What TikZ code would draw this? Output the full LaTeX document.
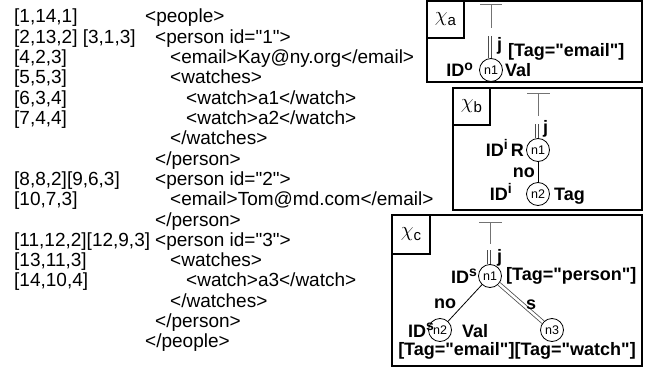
\documentclass[tikz,border=0pt]{standalone}
\usepackage{fontspec}
\setmainfont{Liberation Sans}[Ligatures=TeXOff]
\newcommand\IDup[1]{ID\raisebox{6.5pt}{\fontsize{14}{14}\selectfont\bfseries #1}}
\newcommand\chilbl[1]{{\fontsize{21}{21}\selectfont$\chi$}\raisebox{-3.5pt}{\fontsize{15}{15}\selectfont #1}}
\begin{document}
\begin{tikzpicture}[x=1pt,y=-1pt,
  txt/.style={anchor=base west, inner sep=0pt, font=\fontsize{19}{20}\selectfont},
  lbl/.style={inner sep=0pt, font=\fontsize{18}{18}\bfseries\selectfont},
  nd/.style={circle, draw, line width=0.8pt, minimum size=23pt, inner sep=0pt, font=\fontsize{12.5}{13}\selectfont},
  frame/.style={draw, line width=1.2pt},
  tbar/.style={draw=black!55, line width=1pt},
  dbl/.style={draw=black!70, double=white, double distance=2pt, line width=0.8pt},
  edge/.style={draw, line width=0.8pt}]
\useasboundingbox (0,0) rectangle (648,369);
% left column
\node[txt] (c1)  at (14,23) {[1,14,1]};
\node[txt] (c2)  at (14,43.3) {[2,13,2] [3,1,3]};
\node[txt] (c3)  at (14,63.6) {[4,2,3]};
\node[txt] (c4)  at (14,83.9) {[5,5,3]};
\node[txt] (c5)  at (14,104.2) {[6,3,4]};
\node[txt] (c6)  at (14,124.5) {[7,4,4]};
\node[txt] (c9)  at (14,185.4) {[8,8,2][9,6,3]};
\node[txt] (c10) at (14,205.7) {[10,7,3]};
\node[txt] (c12) at (14,246.3) {[11,12,2][12,9,3]};
\node[txt] (c13) at (14,266.6) {[13,11,3]};
\node[txt] (c14) at (14,286.9) {[14,10,4]};
% xml
\node[txt] (x1)  at (145,23) {<people>};
\node[txt] (x2)  at (155,43.3) {<person id="1">};
\node[txt] (x3)  at (170,63.6) {<email>Kay@ny.org</email>};
\node[txt] (x4)  at (170,83.9) {<watches>};
\node[txt] (x5)  at (186,104.2) {<watch>a1</watch>};
\node[txt] (x6)  at (186,124.5) {<watch>a2</watch>};
\node[txt] (x7)  at (170,144.8) {</watches>};
\node[txt] (x8)  at (155,165.1) {</person>};
\node[txt] (x9)  at (155,185.4) {<person id="2">};
\node[txt] (x10) at (170,205.7) {<email>Tom@md.com</email>};
\node[txt] (x11) at (155,226) {</person>};
\node[txt] (x12) at (155,246.3) {<person id="3">};
\node[txt] (x13) at (170,266.6) {<watches>};
\node[txt] (x14) at (186,286.9) {<watch>a3</watch>};
\node[txt] (x15) at (170,307.2) {</watches>};
\node[txt] (x16) at (155,327.5) {</person>};
\node[txt] (x17) at (145,347.8) {</people>};
% box a
\draw[frame] (427,1) rectangle (642,82);
\draw[frame] (427,1) rectangle (464,38);
\node[inner sep=0pt] (chia) at (445.5,19.5) {\chilbl{a}};
\coordinate (ta) at (491,5);
\coordinate (sa) at (491,28);
\coordinate (da) at (490,36);
\node[nd] (an1) at (491,70) {n1};
\draw[tbar] (480,5) -- (502,5);
\draw[tbar] (ta) -- (sa);
\draw[dbl] (da) -- (da |- an1.north);
\node[lbl, anchor=west] (aj) at (497,46) {j};
\node[lbl, anchor=west] (atag) at (508,52) {[Tag="email"]};
\node[lbl, anchor=base east] (aid) at (473,77) {\IDup{o}};
\node[lbl, anchor=base west] (aval) at (505,77) {Val};
% box b
\draw[frame] (453,88) rectangle (642,210);
\draw[frame] (453,88) rectangle (490,125);
\node[inner sep=0pt] (chib) at (471.5,106.5) {\chilbl{b}};
\coordinate (tb) at (538,93);
\coordinate (sb) at (538,116);
\coordinate (db) at (537,124);
\node[nd] (bn1) at (538,150) {n1};
\node[nd] (bn2) at (538,194) {n2};
\draw[tbar] (527,93) -- (550,93);
\draw[tbar] (tb) -- (sb);
\draw[dbl] (db) -- (db |- bn1.north);
\draw[edge] (bn1) -- (bn2);
\node[lbl, anchor=west] (bj) at (543,129) {j};
\node[lbl, anchor=base east] (bid) at (524,156) {\IDup{i}\,R};
\node[lbl, anchor=east] (bno) at (535,173) {no};
\node[lbl, anchor=base east] (bid2) at (512,200) {\IDup{i}};
\node[lbl, anchor=base west] (btag) at (554,200) {Tag};
% box c
\draw[frame] (392,215) rectangle (642,366);
\draw[frame] (392,215) rectangle (430,254);
\node[inner sep=0pt] (chic) at (411,234.5) {\chilbl{c}};
\coordinate (tc) at (490,222);
\coordinate (sc) at (490,244);
\coordinate (dc) at (489,250);
\node[nd] (cn1) at (490,276) {n1};
\node[nd] (cn2) at (440,330) {n2};
\node[nd] (cn3) at (552,330) {n3};
\draw[tbar] (479,222) -- (502,222);
\draw[tbar] (tc) -- (sc);
\draw[dbl] (dc) -- (dc |- cn1.north);
\draw[edge] (cn1) -- (cn2);
\draw[dbl, double distance=2.5pt] (cn1) -- (cn3);
\node[lbl, anchor=west] (cj) at (497,258) {j};
\node[lbl, anchor=base east] (cid) at (477,283) {\IDup{s}};
\node[lbl, anchor=west] (ctag) at (506,276) {[Tag="person"]};
\node[lbl] (cno) at (445,304) {no};
\node[lbl] (cs) at (531,305) {s};
\node[lbl, anchor=base east] (cid2) at (434,337) {\IDup{s}};
\node[lbl, anchor=base west] (cval) at (462,337) {Val};
\node[lbl] (ctags) at (517,351) {[Tag="email"][Tag="watch"]};
\end{tikzpicture}
\end{document}
